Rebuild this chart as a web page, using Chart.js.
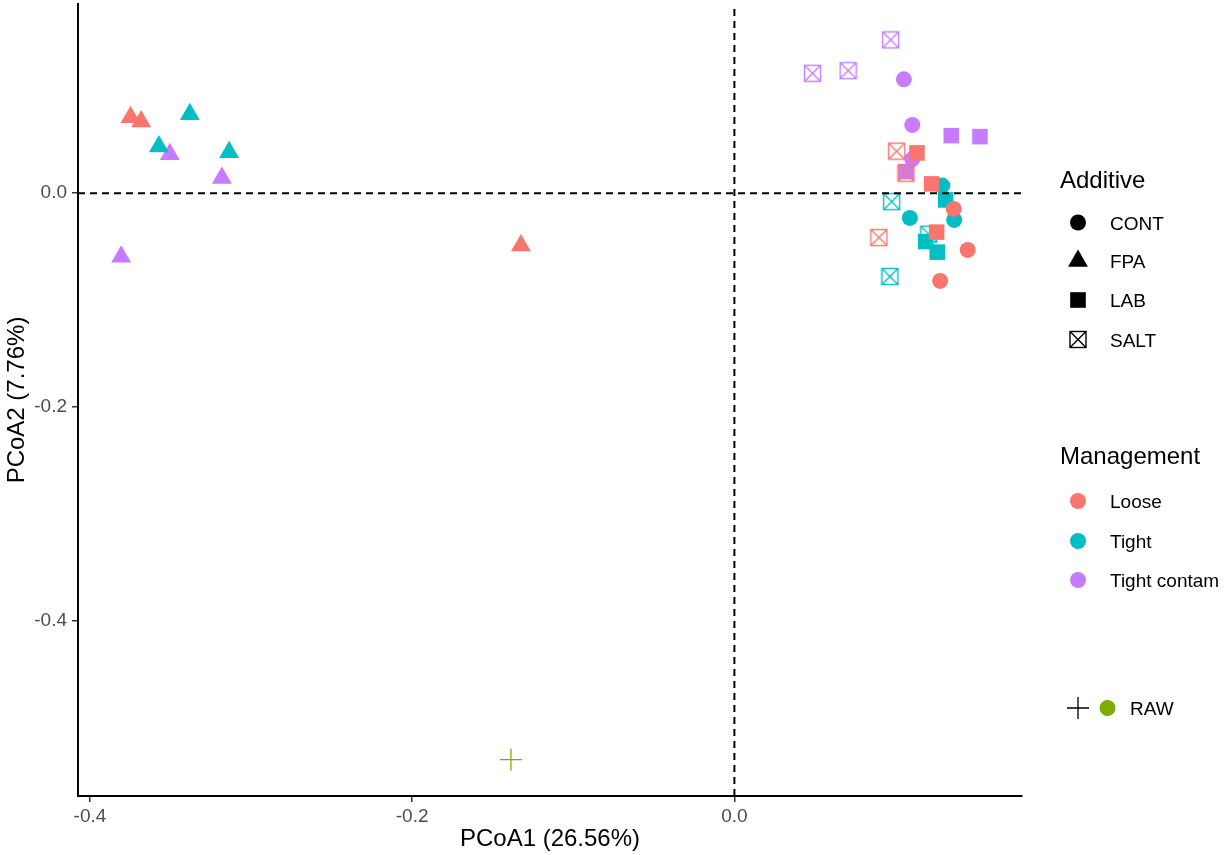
<!DOCTYPE html>
<html>
<head>
<meta charset="utf-8">
<title>PCoA</title>
<script src="https://cdn.jsdelivr.net/npm/chart.js@4.4.1/dist/chart.umd.min.js"></script>
<style>
  html, body { margin: 0; padding: 0; background: #fff; }
  #wrap { width: 1224px; height: 855px; }
</style>
</head>
<body>
<div id="wrap"><canvas id="pcoaChart" width="1224" height="855"></canvas></div>
<script>
// PCoA scores, [PCoA1, PCoA2] per sample
const looseCont = [[0.1361, -0.0147], [0.1448, -0.0530], [0.1277, -0.0820]];
const looseFpa  = [[-0.3748, 0.0711], [-0.3682, 0.0671], [-0.1325, -0.0490]];
const looseLab  = [[0.1133, 0.0377], [0.1224, 0.0087], [0.1255, -0.0364]];
const looseSalt = [[0.1007, 0.0393], [0.1065, 0.0187], [0.0897, -0.0415]];

const tightCont = [[0.1290, 0.0071], [0.1089, -0.0231], [0.1364, -0.0250]];
const tightFpa  = [[-0.3380, 0.0739], [-0.3572, 0.0437], [-0.3136, 0.0384]];
const tightLab  = [[0.1311, -0.0063], [0.1187, -0.0452], [0.1259, -0.0551]];
const tightSalt = [[0.0976, -0.0079], [0.1207, -0.0383], [0.0965, -0.0779]];

const contamCont = [[0.1052, 0.1065], [0.1104, 0.0638], [0.1104, 0.0318]];
const contamFpa  = [[-0.3504, 0.0365], [-0.3181, 0.0141], [-0.3806, -0.0593]];
const contamLab  = [[0.1346, 0.0538], [0.1524, 0.0529], [0.1065, 0.0202]];
const contamSalt = [[0.0970, 0.1433], [0.0485, 0.1121], [0.0706, 0.1146]];

const rawSample = [[-0.1387, -0.5296]];

const managementLabels = ['Loose', 'Tight', 'Tight contam'];
const managementColors = ['#F8766D', '#00BFC4', '#C77CFF'];
const additiveLabels = ['CONT', 'FPA', 'LAB', 'SALT'];
const rawLabel = 'RAW';
const rawColor = '#7CAE00';

const xTicks = [-0.4, -0.2, 0.0];
const yTicks = [0.0, -0.2, -0.4];
const xRange = [-0.4074, 0.1785];
const yRange = [-0.5636, 0.1769];

const FONT = '"Liberation Sans", Arial, Helvetica, sans-serif';

// scores by management, in additive order
const scoresByGroup = [
  [looseCont, looseFpa, looseLab, looseSalt],
  [tightCont, tightFpa, tightLab, tightSalt],
  [contamCont, contamFpa, contamLab, contamSalt]
];

// square with a cross in it (ggplot shape 7)
function makeSaltIcon(color) {
  const c = document.createElement('canvas');
  c.width = 19;
  c.height = 19;
  const g = c.getContext('2d');
  g.strokeStyle = color;
  g.lineWidth = 1.4;
  g.strokeRect(1.5, 1.5, 16, 16);
  g.beginPath();
  g.moveTo(1.5, 1.5); g.lineTo(17.5, 17.5);
  g.moveTo(17.5, 1.5); g.lineTo(1.5, 17.5);
  g.stroke();
  return c;
}

function markerFor(additive, color) {
  switch (additive) {
    case 'CONT': return { pointStyle: 'circle', pointRadius: 8 };
    case 'FPA': return { pointStyle: 'triangle', pointRadius: 11.5 };
    case 'LAB': return { pointStyle: 'rect', pointRadius: 11 };
    case 'SALT': return { pointStyle: makeSaltIcon(color), pointRadius: 9 };
  }
}

function toPoints(arr) {
  return arr.map(function(p) { return { x: p[0], y: p[1] }; });
}

// no extra padding for tick labels, so the plot box sits where the original does
function noScalePadding(scale) {
  scale.paddingTop = 0;
  scale.paddingBottom = 0;
  scale.paddingLeft = 0;
  scale.paddingRight = 0;
}

const datasets = [];

// reference lines at 0, drawn on top (first dataset is painted last)
datasets.push({
  label: 'hline',
  data: [{ x: xRange[0], y: 0 }, { x: xRange[1], y: 0 }],
  showLine: true, borderColor: '#000', borderWidth: 2, borderDash: [7, 5],
  pointRadius: 0
});
datasets.push({
  label: 'vline',
  data: [{ x: 0, y: yRange[0] }, { x: 0, y: yRange[1] }],
  showLine: true, borderColor: '#000', borderWidth: 2, borderDash: [7, 5],
  pointRadius: 0
});

managementLabels.forEach(function(mg, i) {
  additiveLabels.forEach(function(ad, j) {
    const color = managementColors[i];
    const m = markerFor(ad, color);
    datasets.push({
      label: mg + ' ' + ad,
      data: toPoints(scoresByGroup[i][j]),
      pointStyle: m.pointStyle,
      pointRadius: m.pointRadius,
      backgroundColor: color,
      borderColor: color,
      borderWidth: 0
    });
  });
});

datasets.push({
  label: rawLabel,
  data: toPoints(rawSample),
  pointStyle: 'cross',
  pointRadius: 11,
  borderColor: rawColor,
  borderWidth: 1.3
});

function drawSymbol(ctx, kind, x, y, color) {
  ctx.save();
  ctx.fillStyle = color;
  ctx.strokeStyle = color;
  if (kind === 'circle') {
    ctx.beginPath();
    ctx.arc(x, y, 8, 0, Math.PI * 2);
    ctx.fill();
  } else if (kind === 'triangle') {
    const r = 11.5;
    ctx.beginPath();
    ctx.moveTo(x, y - r);
    ctx.lineTo(x + r * Math.sin(2 * Math.PI / 3), y + r / 2);
    ctx.lineTo(x - r * Math.sin(2 * Math.PI / 3), y + r / 2);
    ctx.closePath();
    ctx.fill();
  } else if (kind === 'rect') {
    ctx.fillRect(x - 7.8, y - 7.8, 15.6, 15.6);
  } else if (kind === 'salt') {
    ctx.lineWidth = 1.4;
    ctx.strokeRect(x - 8, y - 8, 16, 16);
    ctx.beginPath();
    ctx.moveTo(x - 8, y - 8); ctx.lineTo(x + 8, y + 8);
    ctx.moveTo(x + 8, y - 8); ctx.lineTo(x - 8, y + 8);
    ctx.stroke();
  } else if (kind === 'cross') {
    ctx.lineWidth = 1.3;
    ctx.beginPath();
    ctx.moveTo(x - 11, y); ctx.lineTo(x + 11, y);
    ctx.moveTo(x, y - 11); ctx.lineTo(x, y + 11);
    ctx.stroke();
  }
  ctx.restore();
}

// ggplot-style side legend
const sideLegend = {
  id: 'sideLegend',
  afterDraw(chart) {
    const ctx = chart.ctx;
    const symX = 1078, textX = 1110;
    ctx.save();
    ctx.fillStyle = '#000';
    ctx.textBaseline = 'alphabetic';
    ctx.textAlign = 'left';

    ctx.font = '24px ' + FONT;
    ctx.fillText('Additive', 1060, 188);
    ctx.font = '19px ' + FONT;
    const addKinds = ['circle', 'triangle', 'rect', 'salt'];
    const addY = [222.5, 261, 300, 339.5];
    additiveLabels.forEach(function(lab, i) {
      drawSymbol(ctx, addKinds[i], symX, addY[i], '#000');
      ctx.fillText(lab, textX, addY[i] + 7);
    });

    ctx.font = '24px ' + FONT;
    ctx.fillText('Management', 1060, 464);
    ctx.font = '19px ' + FONT;
    const mgY = [501, 541, 580];
    managementLabels.forEach(function(lab, i) {
      drawSymbol(ctx, 'circle', symX, mgY[i], managementColors[i]);
      ctx.fillText(lab, textX, mgY[i] + 7);
    });

    drawSymbol(ctx, 'cross', symX, 708, '#000');
    drawSymbol(ctx, 'circle', 1107.5, 708, rawColor);
    ctx.fillText(rawLabel, 1130, 715);
    ctx.restore();
  }
};

Chart.defaults.font.family = FONT;

new Chart(document.getElementById('pcoaChart').getContext('2d'), {
  type: 'scatter',
  data: { datasets: datasets },
  options: {
    responsive: false,
    animation: false,
    devicePixelRatio: 1,
    layout: { autoPadding: false, padding: { left: 0, right: 202, top: 4, bottom: 0 } },
    plugins: {
      legend: { display: false },
      tooltip: { enabled: false }
    },
    scales: {
      x: {
        type: 'linear',
        min: xRange[0],
        max: xRange[1],
        afterBuildTicks: function(scale) {
          scale.ticks = xTicks.map(function(v) { return { value: v }; });
        },
        afterFit: function(scale) { scale.height = 59; noScalePadding(scale); },
        ticks: {
          color: '#4d4d4d',
          font: { size: 19 },
          padding: 3,
          callback: function(v) { return Number(v).toFixed(1); }
        },
        grid: { drawOnChartArea: false, drawTicks: true, tickLength: 6, color: '#333', lineWidth: 1.5 },
        border: { display: true, color: '#000', width: 2 },
        title: {
          display: true,
          text: 'PCoA1 (26.56%)',
          color: '#000',
          font: { size: 24 },
          padding: { top: 0, bottom: 1 }
        }
      },
      y: {
        type: 'linear',
        min: yRange[0],
        max: yRange[1],
        afterBuildTicks: function(scale) {
          scale.ticks = yTicks.map(function(v) { return { value: v }; });
        },
        afterFit: function(scale) { scale.width = 78; noScalePadding(scale); },
        ticks: {
          color: '#4d4d4d',
          font: { size: 19 },
          padding: 5,
          callback: function(v) { return Number(v).toFixed(1); }
        },
        grid: { drawOnChartArea: false, drawTicks: true, tickLength: 6, color: '#333', lineWidth: 1.5 },
        border: { display: true, color: '#000', width: 2 },
        title: {
          display: true,
          text: 'PCoA2 (7.76%)',
          color: '#000',
          font: { size: 24 },
          padding: { top: 3, bottom: 0 }
        }
      }
    }
  },
  plugins: [sideLegend]
});
</script>
</body>
</html>
